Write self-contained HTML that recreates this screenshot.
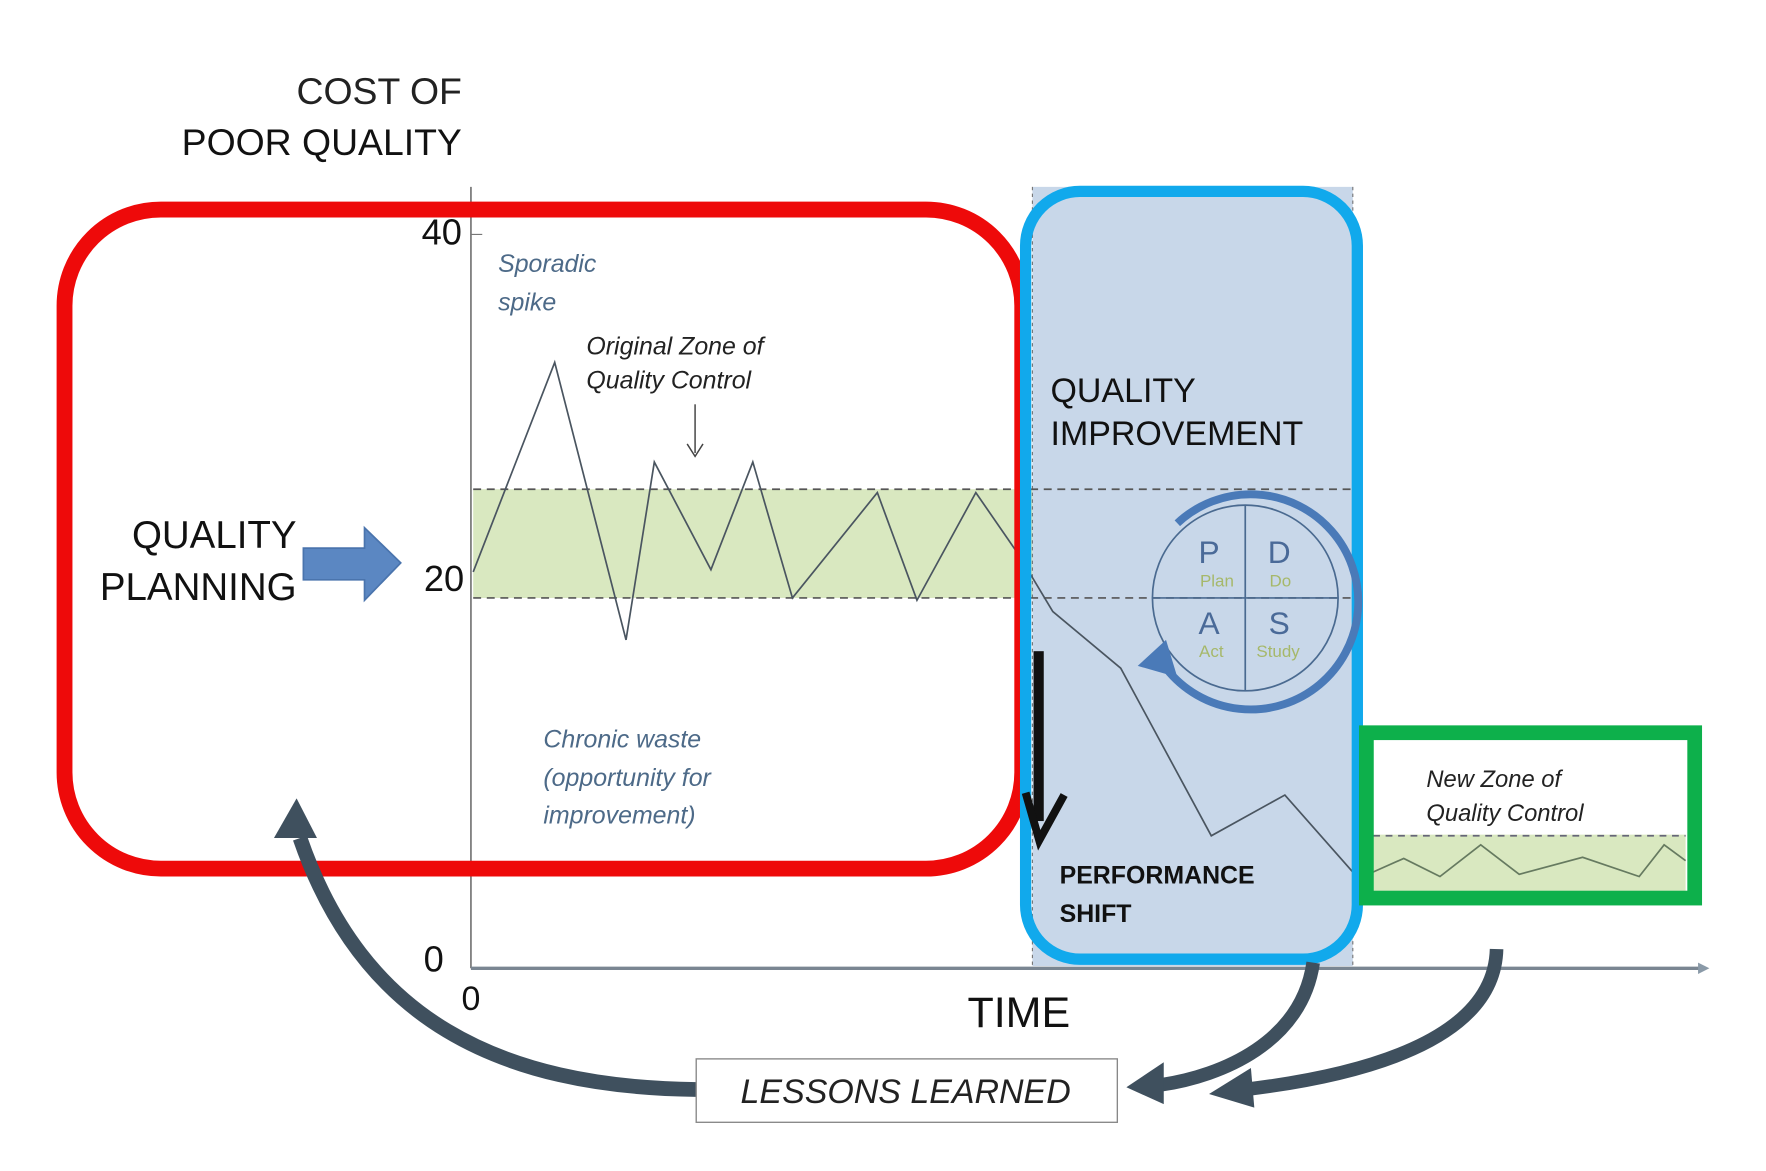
<!DOCTYPE html>
<html><head><meta charset="utf-8"><style>
html,body{margin:0;padding:0;background:#fff;width:1766px;height:1171px;overflow:hidden}
svg{display:block}
text{font-family:"Liberation Sans",sans-serif}
</style></head><body>
<svg width="1766" height="1171" viewBox="0 0 1560 1034" preserveAspectRatio="none" xmlns="http://www.w3.org/2000/svg">
<defs>
<marker id="ah" markerWidth="10" markerHeight="10" refX="5" refY="5" orient="auto" markerUnits="userSpaceOnUse"><path d="M0,0 L10,5 L0,10 Z" fill="#8a9aa8"/></marker>
</defs>
<!-- green band -->
<rect x="418" y="432" width="777" height="96" fill="#d9e8c0"/>
<!-- blue improvement region -->
<rect x="912" y="165" width="283" height="688" fill="#c8d7e9"/>
<line x1="912" y1="165" x2="912" y2="853" stroke="#777" stroke-dasharray="3,3"/>
<line x1="1195" y1="165" x2="1195" y2="853" stroke="#777" stroke-dasharray="3,3"/>
<line x1="418" y1="432" x2="1195" y2="432" stroke="#555" stroke-width="1.5" stroke-dasharray="7,5"/>
<line x1="418" y1="528" x2="1195" y2="528" stroke="#555" stroke-width="1.5" stroke-dasharray="7,5"/>
<!-- axes -->
<line x1="416" y1="165" x2="416" y2="855" stroke="#777" stroke-width="1.5"/>
<line x1="416" y1="855" x2="1505" y2="855" stroke="#7a8692" stroke-width="3" marker-end="url(#ah)"/>
<line x1="416" y1="207" x2="426" y2="207" stroke="#777"/>
<text x="408" y="216" font-size="32" text-anchor="end" fill="#111">40</text>
<text x="410" y="522" font-size="32" text-anchor="end" fill="#111">20</text>
<text x="392" y="858" font-size="32" text-anchor="end" fill="#111">0</text>
<text x="416" y="892" font-size="30" text-anchor="middle" fill="#111">0</text>
<text x="900" y="907" font-size="38" text-anchor="middle" fill="#111">TIME</text>
<text x="408" y="92" font-size="33" text-anchor="end" fill="#222">COST OF</text>
<text x="408" y="137" font-size="33" text-anchor="end" fill="#111">POOR QUALITY</text>
<!-- chart line -->
<polyline points="418,505 490,320 553,565 578,408 628,503 665,408 700,528 775,435 810,530 862,435 900,490 930,540 990,590 1070,738 1135,702 1195,770" fill="none" stroke="#4a5560" stroke-width="1.5"/>
<!-- text labels -->
<g font-style="italic" font-size="22">
<text x="440" y="240" fill="#4d6a88">Sporadic</text>
<text x="440" y="274" fill="#4d6a88">spike</text>
<text x="518" y="313" fill="#222">Original Zone of</text>
<text x="518" y="343" fill="#222">Quality Control</text>
<text x="480" y="660" fill="#4d6a88">Chronic waste</text>
<text x="480" y="694" fill="#4d6a88">(opportunity for</text>
<text x="480" y="727" fill="#4d6a88">improvement)</text>
</g>
<line x1="614" y1="357" x2="614" y2="400" stroke="#444" stroke-width="1.3"/>
<path d="M607,392 L614,403 L621,392" fill="none" stroke="#444" stroke-width="1.3"/>
<!-- red box -->
<rect x="57" y="185" width="846" height="582" rx="85" fill="none" stroke="#ee0a0a" stroke-width="14"/>
<text x="262" y="484" font-size="34" text-anchor="end" fill="#111">QUALITY</text>
<text x="262" y="530" font-size="34" text-anchor="end" fill="#111">PLANNING</text>
<path d="M268,484 L322,484 L322,466 L354,497 L322,530 L322,512 L268,512 Z" fill="#5b87c2" stroke="#4a74ad" stroke-width="1.5"/>
<!-- blue box border -->
<rect x="906" y="169" width="293" height="678" rx="48" fill="none" stroke="#11a9ec" stroke-width="10"/>
<text x="928" y="355" font-size="30" fill="#111">QUALITY</text>
<text x="928" y="393" font-size="30" fill="#111">IMPROVEMENT</text>
<text x="936" y="780" font-size="22" font-weight="bold" fill="#111">PERFORMANCE</text>
<text x="936" y="814" font-size="22" font-weight="bold" fill="#111">SHIFT</text>
<rect x="913" y="575" width="9" height="150" fill="#111"/>
<path d="M906,700 L918,742 L940,702" fill="none" stroke="#111" stroke-width="7"/>
<!-- PDSA -->
<circle cx="1100" cy="528" r="82" fill="none" stroke="#4a6a90" stroke-width="1.5"/>
<line x1="1100" y1="446" x2="1100" y2="610" stroke="#4a6a90" stroke-width="1.5"/>
<line x1="1018" y1="528" x2="1182" y2="528" stroke="#4a6a90" stroke-width="1.5"/>
<path d="M1040,462 A95,95 0 1 1 1030,590" fill="none" stroke="#4a7ab8" stroke-width="7"/>
<path d="M1005,588 L1030,565 L1040,598 Z" fill="#4a7ab8"/>
<g text-anchor="middle" fill="#4a6a98" font-size="28">
<text x="1068" y="497">P</text><text x="1130" y="497">D</text>
<text x="1068" y="560">A</text><text x="1130" y="560">S</text>
</g>
<g text-anchor="middle" fill="#a6b86a" font-size="15">
<text x="1075" y="518">Plan</text><text x="1131" y="518">Do</text>
<text x="1070" y="580">Act</text><text x="1129" y="580">Study</text>
</g>
<!-- green box -->
<rect x="1213" y="737" width="276" height="50" fill="#d9e8c0"/>
<line x1="1213" y1="738" x2="1489" y2="738" stroke="#667" stroke-width="1.5" stroke-dasharray="6,5"/>
<polyline points="1213,770 1240,758 1272,774 1308,746 1342,772 1398,757 1448,774 1470,746 1489,760" fill="none" stroke="#667a60" stroke-width="1.5"/>
<rect x="1207" y="647" width="290" height="146" fill="none" stroke="#0db04b" stroke-width="13"/>
<text x="1260" y="695" font-size="21" font-style="italic" fill="#222">New Zone of</text>
<text x="1260" y="725" font-size="21" font-style="italic" fill="#222">Quality Control</text>
<!-- lessons learned -->
<path d="M615,962 C440,960 320,900 265,740" fill="none" stroke="#3f505e" stroke-width="13"/>
<path d="M242,740 L262,705 L280,740 Z" fill="#3f505e"/>
<path d="M1160,850 C1150,920 1080,950 1025,958" fill="none" stroke="#3f505e" stroke-width="12"/>
<path d="M1028,938 L995,960 L1028,975 Z" fill="#3f505e"/>
<path d="M1322,838 C1320,920 1200,950 1100,962" fill="none" stroke="#3f505e" stroke-width="12"/>
<path d="M1105,943 L1068,966 L1108,978 Z" fill="#3f505e"/>
<rect x="615" y="935" width="372" height="56" fill="#fff" stroke="#888" stroke-width="1.2"/>
<text x="800" y="974" font-size="30" font-style="italic" text-anchor="middle" fill="#222">LESSONS LEARNED</text>
</svg>
</body></html>
